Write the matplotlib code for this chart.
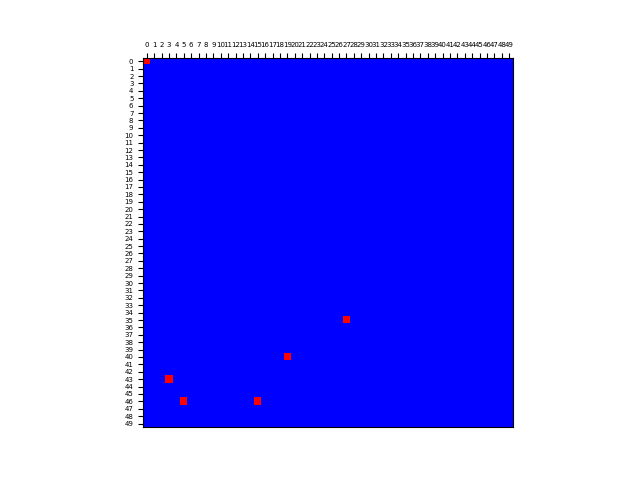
import numpy as np
import matplotlib
matplotlib.use("Agg")
import matplotlib.pyplot as plt

# grid size and the cells that are "on" (row, col)
N = 50
hot_rows = [0, 35, 40, 43, 46, 46]
hot_cols = [0, 27, 19, 3, 5, 15]

grid = np.zeros((N, N))
grid[hot_rows, hot_cols] = 1

fig, ax = plt.subplots(figsize=(6.4, 4.8), dpi=100)
ax.matshow(grid, cmap="bwr", vmin=0, vmax=1)
ax.set_xticks(range(N))
ax.set_yticks(range(N))
ax.tick_params(labelsize=5)
ax.tick_params(axis="x", bottom=False)

fig.savefig("out.png")
